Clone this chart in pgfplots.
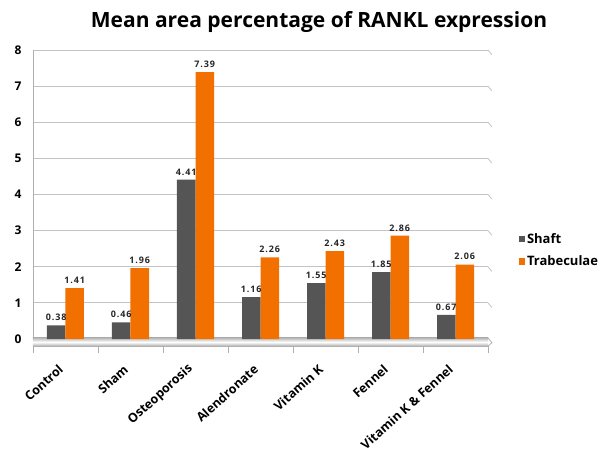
\documentclass[border=0pt]{standalone}
\usepackage{fontspec}
\setmainfont{Open Sans}
\newfontfamily\valfont[LetterSpace=10]{Open Sans}
\usepackage{pgfplots}
\pgfplotsset{compat=1.18}
\definecolor{shaft}{RGB}{85,85,85}
\definecolor{trab}{RGB}{242,112,0}
\definecolor{gridc}{RGB}{195,195,195}
\begin{document}
\begin{tikzpicture}[x=1pt,y=1pt]
\useasboundingbox (0,0) rectangle (610,452);
\node[font=\bfseries\fontsize{21}{24}\selectfont] at (319,430) {Mean area percentage of RANKL expression};
\begin{axis}[
  at={(33pt,113pt)}, anchor=south west,
  scale only axis, width=455pt, height=289pt,
  xmin=-0.5, xmax=6.5, ymin=0, ymax=8,
  ybar=0pt, bar width=18.5pt,
  axis line style={draw=none},
  ymajorgrids, grid style={gridc, line width=0.8pt},
  ytick={0,...,8},
  yticklabel style={font=\bfseries\fontsize{12}{13}\selectfont, xshift=-8pt},
  /pgf/number format/assume math mode=true,
  xtick={0,...,6},
  xticklabels={Control,Sham,Osteoporosis,Alendronate,Vitamin K,Fennel,Vitamin K \& Fennel},
  xticklabel style={font=\bfseries\fontsize{12.5}{13}\selectfont, xshift=-2pt, yshift=-26pt, rotate=42, anchor=east},
  major tick length=0pt,
  clip=false,
  nodes near coords,
  every node near coord/.append style={font=\valfont\bfseries\fontsize{9}{10}\selectfont, color=black!85, yshift=1pt},
  nodes near coords style={/pgf/number format/.cd, fixed, fixed zerofill, precision=2},
  legend style={at={(1.06,0.306)}, anchor=west, draw=none, fill=none, font=\bfseries\fontsize{13}{14}\selectfont, row sep=7pt},
  legend cell align=left,
  legend image code/.code={\fill[#1] (0pt,-3pt) rectangle (6.5pt,3.5pt);},
]
% floor band
\fill[top color=gray!55, bottom color=gray!65, middle color=white] (axis cs:-0.5,-0.2) rectangle (axis cs:6.5,0.03);
\draw[gridc!90!black, line width=0.8pt] (axis cs:-0.5,0) -- (axis cs:-0.5,8);
\pgfplotsinvokeforeach{-0.5,0.5,1.5,2.5,3.5,4.5,5.5,6.5}{\draw[gridc!90!black, line width=0.8pt] (axis cs:#1,-0.2) -- (axis cs:#1,-0.4);}
\pgfplotsinvokeforeach{1,...,8}{\draw[gridc, line width=0.8pt] (axis cs:6.5,#1) -- (axis cs:6.56,#1-0.13);}
\draw[gridc!90!black, line width=0.8pt] (axis cs:6.5,0.03) -- (axis cs:6.56,-0.1) -- (axis cs:6.5,-0.2);
\addplot[fill=shaft, draw=none] coordinates {(0,0.38) (1,0.46) (2,4.41) (3,1.16) (4,1.55) (5,1.85) (6,0.67)};
\addplot[fill=trab, draw=none] coordinates {(0,1.41) (1,1.96) (2,7.39) (3,2.26) (4,2.43) (5,2.86) (6,2.06)};
\legend{Shaft,Trabeculae}
\end{axis}
\end{tikzpicture}
\end{document}
